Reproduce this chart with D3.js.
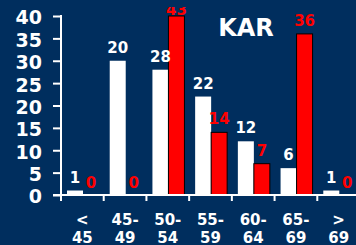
<!DOCTYPE html>
<html>
<head>
<meta charset="utf-8">
<script src="https://cdn.jsdelivr.net/npm/d3@7"></script>
<style>
  body { margin: 0; background: #002e5e; }
  svg { display: block; font-family: "DejaVu Sans", Verdana, sans-serif; font-weight: bold; }
</style>
</head>
<body>
<svg id="chart"></svg>
<script>
var w = 356;
var h = 245;

var categories = ["< 45", "45-49", "50-54", "55-59", "60-64", "65-69", "> 69"];
var whiteValues = [1, 30, 28, 22, 12, 6, 1];
var whiteLabels = ["1", "20", "28", "22", "12", "6", "1"];
var redValues = [0, 0, 43, 14, 7, 36, 0];
var yTicks = [0, 5, 10, 15, 20, 25, 30, 35, 40];
var title = "KAR";

var svg = d3.select("#chart")
    .attr("width", w)
    .attr("height", h)
    .style("background", "#002e5e");

var x = d3.scaleBand().domain(categories).range([61, 360]);
var y = d3.scaleLinear().domain([0, 40]).range([195, 16]).clamp(true);
var barW = 16;

// labels above the plot top get cut like in the original
svg.append("clipPath").attr("id", "plotclip")
  .append("rect").attr("x", 0).attr("y", 7).attr("width", w).attr("height", h);

var bars = svg.append("g");

bars.selectAll(".white")
    .data(whiteValues)
    .enter().append("rect")
    .attr("class", "white")
    .attr("x", (d, i) => x(categories[i]) + 6)
    .attr("y", d => y(d))
    .attr("width", barW)
    .attr("height", d => y(0) - y(d))
    .style("fill", "#ffffff");

bars.selectAll(".red")
    .data(redValues)
    .enter().append("rect")
    .attr("class", "red")
    .attr("x", (d, i) => x(categories[i]) + 6 + barW)
    .attr("y", d => y(d))
    .attr("width", barW)
    .attr("height", d => y(0) - y(d))
    .style("fill", "#ff0000")
    .style("stroke", d => d > 0 ? "#000" : "none")
    .style("stroke-width", 1);

var labels = svg.append("g").attr("clip-path", "url(#plotclip)")
    .style("font-size", "15px")
    .attr("text-anchor", "middle");

function labelY(d) {
  return Math.max(y(d) - 8, y.range()[1] - 1);
}

labels.selectAll(".wl")
    .data(whiteValues)
    .enter().append("text")
    .attr("x", (d, i) => x(categories[i]) + 6 + barW / 2)
    .attr("y", d => labelY(d))
    .style("fill", "#ffffff")
    .text((d, i) => whiteLabels[i]);

labels.selectAll(".rl")
    .data(redValues)
    .enter().append("text")
    .attr("x", (d, i) => x(categories[i]) + 6 + barW * 1.5)
    .attr("y", d => labelY(d) + (d == 0 ? 1 : 0))
    .style("fill", "#ff0000")
    .text(d => d);

// y axis
var yAxis = svg.append("g")
    .attr("transform", "translate(61,0)")
    .call(d3.axisLeft(y).tickValues(yTicks).tickSize(8).tickPadding(11));
yAxis.select(".domain").remove();
yAxis.selectAll("line").style("stroke", "#fff").style("stroke-width", 2);
yAxis.selectAll("text")
    .style("fill", "#fff")
    .style("font-size", "19px")
    .style("font-family", "'DejaVu Sans', Verdana, sans-serif")
    .style("font-weight", "bold")
    .attr("dy", "0.42em");

svg.append("line")
    .attr("x1", 61).attr("x2", 61)
    .attr("y1", y(40) - 1).attr("y2", y(0) + 6)
    .style("stroke", "#fff").style("stroke-width", 2);

// x axis
svg.append("line")
    .attr("x1", 53).attr("x2", w)
    .attr("y1", y(0)).attr("y2", y(0))
    .style("stroke", "#fff").style("stroke-width", 2);

var bounds = categories.map(c => x(c)).concat([x.range()[1]]);
svg.selectAll(".xtick")
    .data(bounds)
    .enter().append("line")
    .attr("x1", d => d).attr("x2", d => d)
    .attr("y1", y(0)).attr("y2", y(0) + 6)
    .style("stroke", "#fff").style("stroke-width", 2);

function firstLine(d) { return d.indexOf(" ") > 0 ? d.split(" ")[0] : d.split("-")[0] + "-"; }
function secondLine(d) { return d.indexOf(" ") > 0 ? d.split(" ")[1] : d.split("-")[1]; }

var xlab = svg.append("g")
    .attr("text-anchor", "middle")
    .style("fill", "#fff")
    .style("font-size", "15px");
xlab.selectAll(".xl1")
    .data(categories)
    .enter().append("text")
    .attr("x", d => x(d) + x.bandwidth() / 2)
    .attr("y", 224.5)
    .text(firstLine);
xlab.selectAll(".xl2")
    .data(categories)
    .enter().append("text")
    .attr("x", d => x(d) + x.bandwidth() / 2)
    .attr("y", 242.5)
    .text(secondLine);

svg.append("text")
    .attr("x", 246)
    .attr("y", 36)
    .attr("text-anchor", "middle")
    .style("fill", "#fff")
    .style("font-size", "24px")
    .text(title);
</script>
</body>
</html>
